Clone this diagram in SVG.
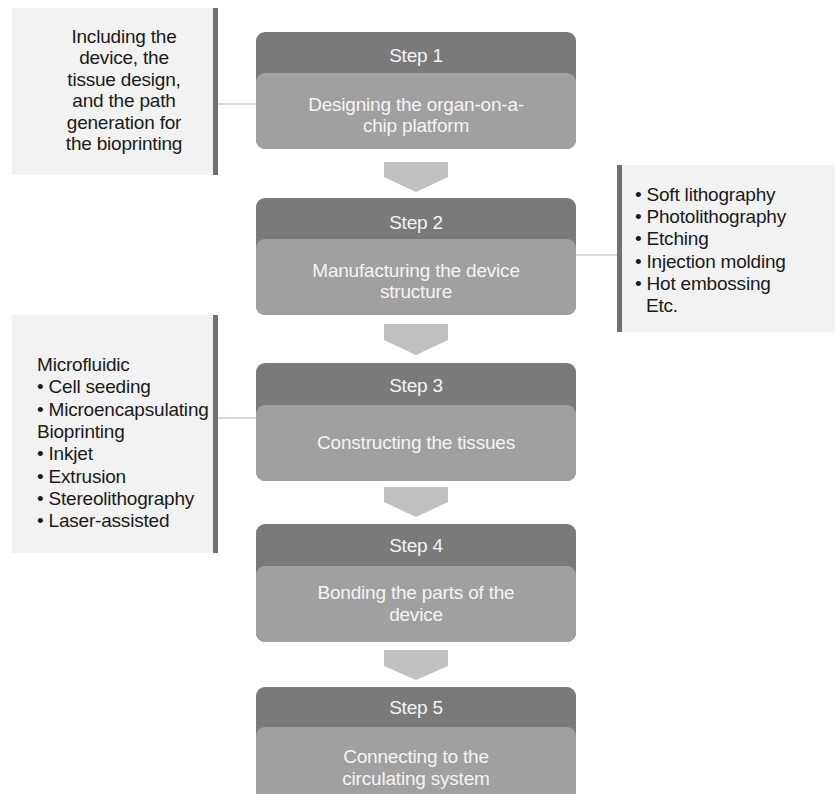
<svg xmlns="http://www.w3.org/2000/svg" width="835" height="794" viewBox="0 0 835 794">
<style>
.t{font-family:"Liberation Sans",Arial,sans-serif;font-size:19px;letter-spacing:-0.2px;}
.note{fill:#1a1a1a;}
.st{fill:#f4f4f4;text-anchor:middle;}
.hd{fill:#7a7a7a;}
.bd{fill:#a0a0a0;}
.ar{fill:#c0c0c0;}
.bx{fill:#f2f2f2;}
.bar{fill:#707070;}
.cn{stroke:#b4b4b4;stroke-width:1.2;fill:none;}
</style>
<rect width="835" height="794" fill="#ffffff"/>
<g id="connectors">
<line class="cn" x1="218" y1="104" x2="256" y2="104"/>
<line class="cn" x1="576" y1="255" x2="617" y2="255"/>
<line class="cn" x1="218" y1="418" x2="256" y2="418"/>
<polygon class="ar" points="384,162 448,162 448,177 416,192 384,177"/>
<polygon class="ar" points="384,324 448,324 448,340 416,355 384,340"/>
<polygon class="ar" points="384,487 448,487 448,502 416,517 384,502"/>
<polygon class="ar" points="384,650 448,650 448,666 416,680 384,666"/>
</g>
<g id="note1">
<rect class="bx" x="12" y="8" width="201" height="167"/>
<rect class="bar" x="213" y="8" width="5" height="167"/>
<text class="t note" text-anchor="middle"><tspan x="124" y="43">Including the</tspan><tspan x="124" y="64.4">device, the</tspan><tspan x="124" y="85.8">tissue design,</tspan><tspan x="124" y="107.2">and the path</tspan><tspan x="124" y="128.6">generation for</tspan><tspan x="124" y="150">the bioprinting</tspan></text>
</g>
<g id="note2">
<rect class="bx" x="617" y="165" width="218" height="167"/>
<rect class="bar" x="617" y="165" width="5" height="167"/>
<text class="t note"><tspan x="635" y="201">• Soft lithography</tspan><tspan x="635" y="223">• Photolithography</tspan><tspan x="635" y="245">• Etching</tspan><tspan x="635" y="267.5">• Injection molding</tspan><tspan x="635" y="290">• Hot embossing</tspan><tspan x="646" y="312">Etc.</tspan></text>
</g>
<g id="note3">
<rect class="bx" x="12" y="315" width="201" height="238"/>
<rect class="bar" x="213" y="315" width="5" height="238"/>
<text class="t note"><tspan x="37" y="371">Microfluidic</tspan><tspan x="37" y="393.3">• Cell seeding</tspan><tspan x="37" y="415.6">• Microencapsulating</tspan><tspan x="37" y="437.9">Bioprinting</tspan><tspan x="37" y="460.2">• Inkjet</tspan><tspan x="37" y="482.5">• Extrusion</tspan><tspan x="37" y="504.8">• Stereolithography</tspan><tspan x="37" y="527">• Laser-assisted</tspan></text>
</g>
<g id="step1">
<rect class="hd" x="256" y="32" width="320" height="117" rx="9"/>
<rect class="bd" x="256" y="73" width="320" height="76" rx="9"/>
<text class="t st" x="416" y="62">Step 1</text>
<text class="t st"><tspan x="416" y="111">Designing the organ-on-a-</tspan><tspan x="416" y="132">chip platform</tspan></text>
</g>
<g id="step2">
<rect class="hd" x="256" y="198" width="320" height="117" rx="9"/>
<rect class="bd" x="256" y="239" width="320" height="76" rx="9"/>
<text class="t st" x="416" y="229">Step 2</text>
<text class="t st"><tspan x="416" y="277">Manufacturing the device</tspan><tspan x="416" y="298">structure</tspan></text>
</g>
<g id="step3">
<rect class="hd" x="256" y="363" width="320" height="118" rx="9"/>
<rect class="bd" x="256" y="405" width="320" height="76" rx="9"/>
<text class="t st" x="416" y="392">Step 3</text>
<text class="t st" x="416" y="449">Constructing the tissues</text>
</g>
<g id="step4">
<rect class="hd" x="256" y="524" width="320" height="118" rx="9"/>
<rect class="bd" x="256" y="566" width="320" height="76" rx="9"/>
<text class="t st" x="416" y="552">Step 4</text>
<text class="t st"><tspan x="416" y="599">Bonding the parts of the</tspan><tspan x="416" y="621">device</tspan></text>
</g>
<g id="step5">
<rect class="hd" x="256" y="687" width="320" height="120" rx="9"/>
<rect class="bd" x="256" y="727" width="320" height="80" rx="9"/>
<text class="t st" x="416" y="714">Step 5</text>
<text class="t st"><tspan x="416" y="763">Connecting to the</tspan><tspan x="416" y="785">circulating system</tspan></text>
</g>
</svg>
